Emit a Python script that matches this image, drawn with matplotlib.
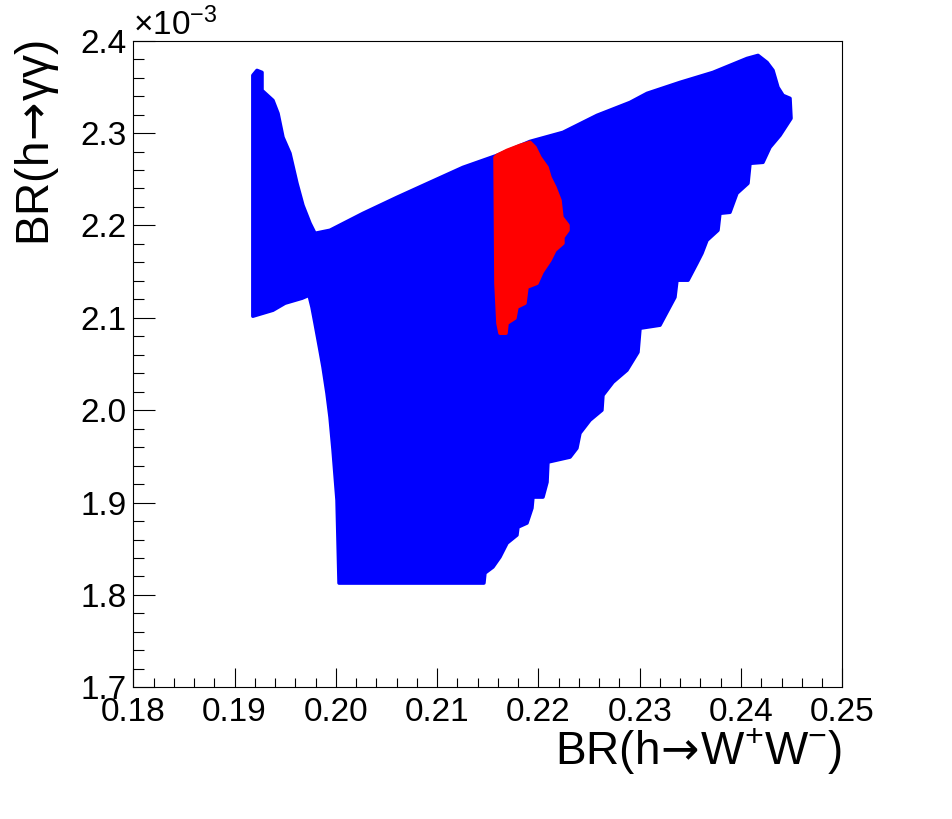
import numpy as np
import matplotlib
matplotlib.use("Agg")
import matplotlib.pyplot as plt
from matplotlib.ticker import MultipleLocator, FormatStrFormatter

plt.rcParams['font.family'] = ['Liberation Sans', 'DejaVu Sans']
plt.rcParams['mathtext.fontset'] = 'custom'
plt.rcParams['mathtext.rm'] = 'Liberation Sans'
plt.rcParams['mathtext.it'] = 'Liberation Sans:italic'
plt.rcParams['mathtext.sf'] = 'DejaVu Sans'

# outline of the allowed scan region (blue), BR(h->WW) vs BR(h->gg) in units of 1e-3
blue_ww = [0.1918, 0.19221, 0.19271, 0.19271, 0.19379, 0.19429, 0.19478, 0.19547,
           0.19616, 0.19675, 0.19745, 0.19794, 0.19942, 0.20268, 0.20604, 0.20929,
           0.21255, 0.21591, 0.21917, 0.22242, 0.22578, 0.22904, 0.23072, 0.23398,
           0.23723, 0.24059, 0.24168, 0.24257, 0.24316, 0.24365, 0.24415, 0.24484,
           0.24494, 0.24385, 0.24286, 0.24217, 0.24089, 0.24069, 0.23960, 0.23891,
           0.23792, 0.23773, 0.23664, 0.23615, 0.23565, 0.23477, 0.23368, 0.23348,
           0.23279, 0.23200, 0.23003, 0.22983, 0.22874, 0.22736, 0.22637, 0.22627,
           0.22509, 0.22410, 0.22380, 0.22312, 0.22094, 0.22085, 0.22045, 0.21946,
           0.21936, 0.21887, 0.21798, 0.21788, 0.21690, 0.21620, 0.21551, 0.21472,
           0.21462, 0.20031, 0.20011, 0.19972, 0.19942, 0.19912, 0.19873, 0.19843,
           0.19794, 0.19764, 0.19735, 0.19666, 0.19498, 0.19379, 0.19281, 0.1918]
blue_gg = [2.3625, 2.3679, 2.3657, 2.3462, 2.3354, 2.3213, 2.2954, 2.2781,
           2.2456, 2.2218, 2.2023, 2.1915, 2.1948, 2.2131, 2.2305, 2.2467,
           2.2629, 2.2759, 2.2910, 2.3008, 2.3192, 2.3332, 2.3430, 2.3549,
           2.3657, 2.3808, 2.3841, 2.3765, 2.3679, 2.3495, 2.3408, 2.3376,
           2.3159, 2.2975, 2.2846, 2.2683, 2.2672, 2.2456, 2.2348, 2.2142,
           2.2131, 2.1948, 2.1839, 2.1699, 2.1591, 2.1407, 2.1407, 2.1223,
           2.1082, 2.0920, 2.0887, 2.0628, 2.0433, 2.0303, 2.0162, 2.0000,
           1.9892, 1.9751, 1.9589, 1.9492, 1.9438, 1.9221, 1.9059, 1.9059,
           1.8940, 1.8778, 1.8734, 1.8648, 1.8561, 1.8410, 1.8302, 1.8237,
           1.8128, 1.8128, 1.9026, 1.9567, 1.9924, 2.0184, 2.0465, 2.0649,
           2.0941, 2.1115, 2.1244, 2.1212, 2.1158, 2.1082, 2.1050, 2.1017]

# outline of the region passing the extra constraint (red)
red_ww = [0.21591, 0.21690, 0.21818, 0.21917, 0.21966, 0.22015, 0.22085, 0.22114,
          0.22163, 0.22213, 0.22232, 0.22292, 0.22292, 0.22242, 0.22242, 0.22163,
          0.22114, 0.22035, 0.21986, 0.21887, 0.21867, 0.21788, 0.21768, 0.21690,
          0.21680, 0.21620, 0.21600, 0.21580, 0.21571]
red_gg = [2.2759, 2.2813, 2.2867, 2.2900, 2.2846, 2.2737, 2.2629, 2.2521,
          2.2413, 2.2272, 2.2088, 2.2002, 2.1948, 2.1872, 2.1807, 2.1731,
          2.1623, 2.1493, 2.1374, 2.1331, 2.1158, 2.1115, 2.0996, 2.0941,
          2.0833, 2.0833, 2.0941, 2.1374, 2.2737]

fig = plt.figure(figsize=(9.52, 8.19), dpi=100)
ax = fig.add_axes([133.3/952, 1-687.3/819, 709/952, 646.6/819])

ax.fill(blue_ww, blue_gg, color='#0000ff', edgecolor='#0000ff', linewidth=2.5, joinstyle='round')
ax.fill(red_ww, red_gg, color='#ff0000', edgecolor='#ff0000', linewidth=2.5, joinstyle='round')

ax.set_xlim(0.18, 0.25)
ax.set_ylim(1.7, 2.4)

ax.xaxis.set_major_locator(MultipleLocator(0.01))
ax.xaxis.set_minor_locator(MultipleLocator(0.002))
ax.yaxis.set_major_locator(MultipleLocator(0.1))
ax.yaxis.set_minor_locator(MultipleLocator(0.02))
ax.xaxis.set_major_formatter(FormatStrFormatter('%.2f'))
ax.yaxis.set_major_formatter(FormatStrFormatter('%.1f'))

ax.tick_params(axis='both', which='both', direction='in', width=0.8, labelsize=24)
ax.tick_params(axis='x', which='major', length=13.7, pad=7)
ax.tick_params(axis='x', which='minor', length=6.5)
ax.tick_params(axis='y', which='major', length=15.8, pad=5)
ax.tick_params(axis='y', which='minor', length=7.9)
for s in ax.spines.values():
    s.set_linewidth(0.8)

fig.text(842/952, 1-765/819, r'BR(h$\!\mathsf{\rightarrow}\!$W$^{+}$W$^{-}$)', fontsize=33,
         ha='right', va='baseline')
fig.text(37/952, 1-40/819, r'BR(h$\!\mathsf{\rightarrow}\!$γγ)', fontsize=33, rotation=90,
         ha='center', va='top')
fig.text(133/952, 1-35/819, r'$\times$10$^{-3}$', fontsize=24, ha='left', va='baseline')

fig.savefig('out.png', dpi=100)
